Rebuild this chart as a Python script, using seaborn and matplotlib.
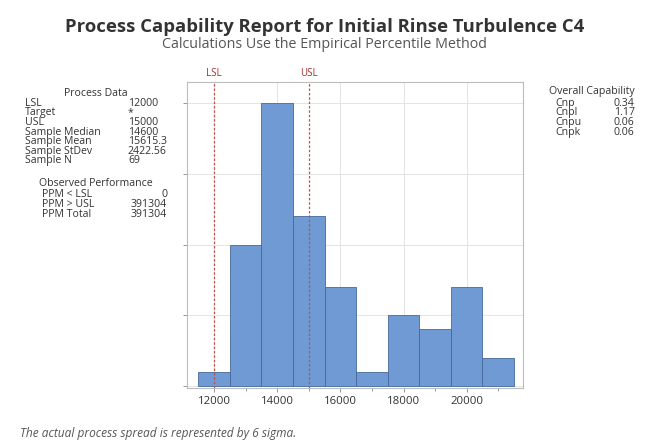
import matplotlib
matplotlib.use("Agg")
import matplotlib.pyplot as plt
import seaborn as sns
import pandas as pd
import numpy as np

# Histogram data: bin midpoints and counts
bin_centers = [12000, 13000, 14000, 15000, 16000, 17000, 18000, 19000, 20000, 21000]
bin_counts = [1, 10, 20, 12, 7, 1, 5, 4, 7, 2]
bin_width = 1000

LSL = 12000
USL = 15000

process_labels = ["LSL", "Target", "USL", "Sample Median", "Sample Mean", "Sample StDev", "Sample N"]
process_values = ["12000", "*", "15000", "14600", "15615.3", "2422.56", "69"]

perf_labels = ["PPM < LSL", "PPM > USL", "PPM Total"]
perf_values = ["0", "391304", "391304"]

cap_labels = ["Cnp", "Cnpl", "Cnpu", "Cnpk"]
cap_values = ["0.34", "1.17", "0.06", "0.06"]

x_ticks = [12000, 14000, 16000, 18000, 20000]

sns.set_theme(style="white")
plt.rcParams["font.family"] = ["Open Sans", "DejaVu Sans"]

df = pd.DataFrame({"value": bin_centers, "count": bin_counts})

fig = plt.figure(figsize=(6.53, 4.41), dpi=100)
ax = fig.add_axes([0.286, 0.120, 0.515, 0.694])

lo = bin_centers[0] - bin_width / 2
hi = bin_centers[-1] + bin_width / 2
sns.histplot(data=df, x="value", weights="count", binwidth=bin_width, binrange=(lo, hi), ax=ax,
             color="#6f9ad3", edgecolor="#46689a", linewidth=0.6, alpha=1.0, zorder=2)

ax.set_xlim(11135, 21785)
ax.set_ylim(-0.15, 21.5)
ax.set_xticks(x_ticks)
ax.set_xticklabels([str(t) for t in x_ticks], fontsize=8.2, color="#333333")
ax.set_xticks(np.arange(13000, 21001, 2000), minor=True)
ax.set_yticks([0, 5, 10, 15, 20])
ax.set_yticklabels([])
ax.tick_params(axis="x", which="major", length=3, width=0.6, color="#888888", pad=2.5, bottom=True)
ax.tick_params(axis="x", which="minor", length=2, width=0.6, color="#888888", bottom=True)
ax.tick_params(axis="y", length=3, width=0.6, color="#888888", left=True)
ax.set_xlabel("")
ax.set_ylabel("")
ax.grid(True, which="major", color="#e4e4e4", linewidth=0.7, zorder=0)
ax.set_axisbelow(True)
for s in ax.spines.values():
    s.set_color("#bcbcbc")
    s.set_linewidth(0.8)

# Specification limits
for val, name in [(LSL, "LSL"), (USL, "USL")]:
    ax.axvline(val, color="#c0504d", linestyle=(0, (2, 1.5)), linewidth=0.9, zorder=3)
    ax.text(val, 21.5 + 0.2, name, ha="center", va="bottom", fontsize=7,
            color="#a03030", clip_on=False)

# Titles
fig.text(0.497, 0.939, "Process Capability Report for Initial Rinse Turbulence C4",
         ha="center", va="center", fontsize=13.3, fontweight="bold", color="#333333")
fig.text(0.497, 0.900, "Calculations Use the Empirical Percentile Method",
         ha="center", va="center", fontsize=10.3, color="#555555")

# Process data table
fs = 7.6
txt_color = "#333333"
row_dy = 0.0218
fig.text(0.147, 0.789, "Process Data", ha="center", va="center", fontsize=fs, color=txt_color)
row_y0 = 0.766
for i, (lab, val) in enumerate(zip(process_labels, process_values)):
    y = row_y0 - i * row_dy
    fig.text(0.038, y, lab, ha="left", va="center", fontsize=fs, color=txt_color)
    fig.text(0.196, y, val, ha="left", va="center", fontsize=fs, color=txt_color)

fig.text(0.146, 0.583, "Observed Performance", ha="center", va="center", fontsize=fs, color=txt_color)
for i, (lab, val) in enumerate(zip(perf_labels, perf_values)):
    y = 0.558 - i * row_dy
    fig.text(0.064, y, lab, ha="left", va="center", fontsize=fs, color=txt_color)
    fig.text(0.256, y, val, ha="right", va="center", fontsize=fs, color=txt_color)

# Overall capability table
fig.text(0.907, 0.793, "Overall Capability", ha="center", va="center", fontsize=fs, color=txt_color)
for i, (lab, val) in enumerate(zip(cap_labels, cap_values)):
    y = 0.766 - i * row_dy
    fig.text(0.850, y, lab, ha="left", va="center", fontsize=fs, color=txt_color)
    fig.text(0.972, y, val, ha="right", va="center", fontsize=fs, color=txt_color)

# Footnote
fig.text(0.031, 0.018, "The actual process spread is represented by 6 sigma.",
         ha="left", va="center", fontsize=8.6, style="italic", color="#555555")

fig.savefig("out.png", dpi=100)
